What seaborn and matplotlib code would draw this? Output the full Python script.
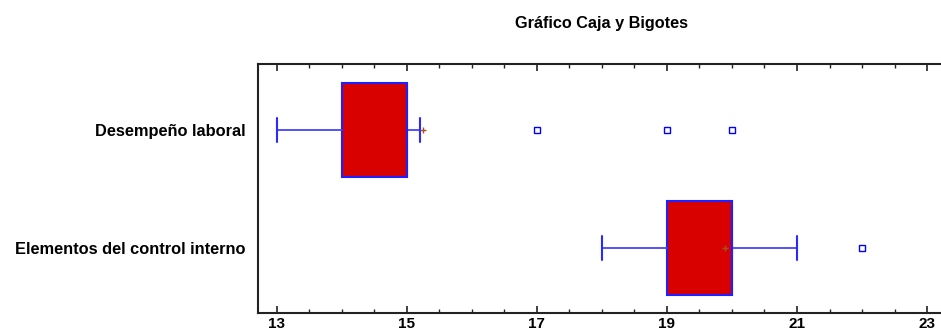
import matplotlib
matplotlib.use("Agg")
import matplotlib.pyplot as plt
import seaborn as sns
from matplotlib.ticker import MultipleLocator, FixedLocator

# Summary statistics for each variable
categories = ["Desempeño laboral", "Elementos del control interno"]
q1 = [14, 19]
medians = [15, 20]
q3 = [15, 20]
whisker_low = [13, 18]
whisker_high = [15.2, 21]
means = [15.25, 19.9]
outliers = [[17, 19, 20], [22]]
x_ticks = [13, 15, 17, 19, 21, 23]
title = "Gráfico Caja y Bigotes"

sns.set_theme(style="ticks")
plt.rcParams["font.family"] = ["Liberation Sans", "DejaVu Sans"]
plt.rcParams["text.color"] = "black"

fig = plt.figure(figsize=(9.41, 3.29), dpi=100)
ax = fig.add_axes([0.2742, 0.0486, 0.7258, 0.7569])

positions = list(range(len(categories)))
stats = [
    dict(label=c, q1=a, med=m, q3=b, whislo=lo, whishi=hi, fliers=f)
    for c, a, m, b, lo, hi, f in zip(categories, q1, medians, q3,
                                      whisker_low, whisker_high, outliers)
]

edge = "#1f1fff"
ax.bxp(
    stats,
    positions=positions,
    widths=0.8,
    orientation="horizontal",
    patch_artist=True,
    showfliers=True,
    capwidths=0.2,
    boxprops=dict(facecolor="#d90000", edgecolor=edge, linewidth=1.5),
    whiskerprops=dict(color="#4444ff", linewidth=1.3),
    capprops=dict(color="#2a2aff", linewidth=1.5),
    medianprops=dict(color=edge, linewidth=1.5),
    flierprops=dict(marker="s", markersize=4, markerfacecolor="none",
                    markeredgecolor="#0000ff", markeredgewidth=1.0),
)

# Mean markers
sns.scatterplot(x=means, y=positions, marker="+", color="#a0522d", s=18,
                linewidth=1.0, ax=ax, zorder=5, legend=False)

ax.set_xlim(12.71, 23.215)
ax.set_ylim(1.551, -0.559)

ax.xaxis.set_major_locator(FixedLocator(x_ticks))
ax.xaxis.set_minor_locator(MultipleLocator(0.5))
ax.set_xticklabels([str(t) for t in x_ticks], fontsize=11, fontweight="bold")
ax.tick_params(axis="x", which="both", direction="in", top=True, bottom=True,
               colors="#222222", labelcolor="black", pad=3)
ax.tick_params(axis="x", which="major", length=5, width=1.2)
ax.tick_params(axis="x", which="minor", length=3, width=1.0)

ax.set_yticks(positions)
ax.set_yticklabels(categories, fontsize=11.8, fontweight="bold", color="black")
ax.tick_params(axis="y", length=0, pad=9)

for side in ["left", "top", "bottom"]:
    ax.spines[side].set_color("#222222")
    ax.spines[side].set_linewidth(1.5)
ax.spines["right"].set_visible(False)
ax.set_xlabel("")
ax.set_ylabel("")
ax.grid(False)

fig.text(0.6397, 1 - 28 / 329, title, ha="center", va="baseline",
         fontsize=11.7, fontweight="bold", color="black")

fig.savefig("out.png", dpi=100, facecolor="white")
